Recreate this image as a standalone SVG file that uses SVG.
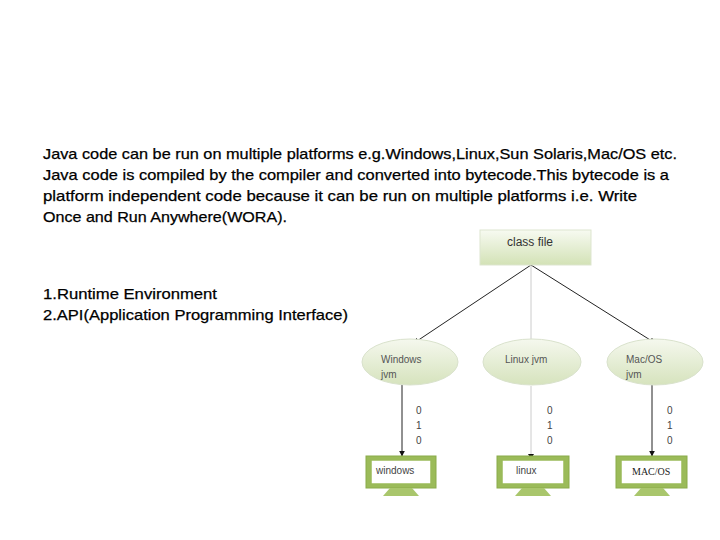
<svg xmlns="http://www.w3.org/2000/svg" width="720" height="540" viewBox="0 0 720 540">
<style>
.body{font-family:"Liberation Sans",Arial,sans-serif;font-size:15px;fill:#000;stroke:#000;stroke-width:0.25}
.small{font-family:"Liberation Sans",Arial,sans-serif;font-size:10px;fill:#555}
.bit{font-family:"Liberation Sans",Arial,sans-serif;font-size:10px;fill:#444}
.mon{fill:#9bbb59;stroke:#8aab4a;stroke-width:1}
.stand{fill:#a9c66c}
.screen{fill:#fff;stroke:#9bbb59;stroke-width:1.5}
.ell{fill:url(#eg);stroke:#d9e2cc;stroke-width:1}
.edge{stroke:#222;stroke-width:1;fill:none}
.edge-light{stroke:#ccc;stroke-width:1;fill:none}
</style>
<defs>
<linearGradient id="bg" x1="0" y1="0" x2="0" y2="1">
<stop offset="0" stop-color="#f7faf1"/>
<stop offset="1" stop-color="#d3e2b6"/>
</linearGradient>
<linearGradient id="eg" x1="0" y1="0" x2="0" y2="1">
<stop offset="0" stop-color="#f5f8ee"/>
<stop offset="1" stop-color="#d6e3bd"/>
</linearGradient>
<marker id="ah" viewBox="0 0 10 10" refX="9" refY="5" markerWidth="6" markerHeight="6" orient="auto">
<path d="M0,0 L10,5 L0,10 z" fill="#111"/>
</marker>
</defs>
<rect width="720" height="540" fill="#fff"/>

<g id="text">
<text class="body" x="43" y="159" textLength="634" lengthAdjust="spacingAndGlyphs">Java code can be run on multiple platforms e.g.Windows,Linux,Sun Solaris,Mac/OS etc.</text>
<text class="body" x="43" y="180" textLength="626" lengthAdjust="spacingAndGlyphs">Java code is compiled by the compiler and converted into bytecode.This bytecode is a</text>
<text class="body" x="43" y="201" textLength="594" lengthAdjust="spacingAndGlyphs">platform independent code because it can be run on multiple platforms i.e. Write</text>
<text class="body" x="43" y="222" textLength="244" lengthAdjust="spacingAndGlyphs">Once and Run Anywhere(WORA).</text>
<text class="body" x="43" y="299" textLength="174" lengthAdjust="spacingAndGlyphs">1.Runtime Environment</text>
<text class="body" x="43" y="320" textLength="305" lengthAdjust="spacingAndGlyphs">2.API(Application Programming Interface)</text>
</g>

<g id="connectors">
<line class="edge" x1="531" y1="265" x2="414" y2="343" marker-end="url(#ah)"/>
<line class="edge-light" x1="531" y1="265" x2="531" y2="341"/>
<path d="M528,340 L534,340 L531,345 z" fill="#111"/>
<line class="edge" x1="531" y1="265" x2="655" y2="343" marker-end="url(#ah)"/>
<line class="edge" x1="402" y1="385" x2="402" y2="456" marker-end="url(#ah)"/>
<line class="edge-light" x1="531" y1="386" x2="531" y2="454"/>
<path d="M528,454 L534,454 L531,459 z" fill="#111"/>
<line class="edge" x1="652" y1="385" x2="652" y2="456" marker-end="url(#ah)"/>
<text class="bit" x="416" y="414">0</text><text class="bit" x="416" y="429">1</text><text class="bit" x="416" y="444">0</text>
<text class="bit" x="547" y="414">0</text><text class="bit" x="547" y="429">1</text><text class="bit" x="547" y="444">0</text>
<text class="bit" x="667" y="414">0</text><text class="bit" x="667" y="429">1</text><text class="bit" x="667" y="444">0</text>
</g>

<g id="classfile">
<rect x="480" y="230" width="111" height="35" fill="url(#bg)" stroke="#dde5cf" stroke-width="1"/>
<text x="507" y="246" font-family="Liberation Sans,Arial,sans-serif" font-size="12" fill="#333">class file</text>
</g>

<g id="windows-jvm">
<ellipse class="ell" cx="410" cy="362" rx="48" ry="23"/>
<text class="small" x="381" y="363">Windows</text>
<text class="small" x="381" y="378">jvm</text>
</g>
<g id="linux-jvm">
<ellipse class="ell" cx="532" cy="362" rx="49" ry="23"/>
<text class="small" x="505" y="363">Linux   jvm</text>
</g>
<g id="mac-jvm">
<ellipse class="ell" cx="655" cy="362" rx="48" ry="23"/>
<text class="small" x="626" y="363">Mac/OS</text>
<text class="small" x="626" y="378">jvm</text>
</g>

<g id="windows-pc">
<rect class="mon" x="366" y="456" width="70" height="32"/>
<rect class="screen" x="371" y="460" width="60" height="24"/>
<path class="stand" d="M390,488 L412,488 L419,496 L383,496 z"/>
<text x="376" y="474" font-family="Liberation Sans,Arial,sans-serif" font-size="10" fill="#444">windows</text>
</g>
<g id="linux-pc">
<rect class="mon" x="497" y="456" width="72" height="32"/>
<rect class="screen" x="502" y="460" width="62" height="24"/>
<path class="stand" d="M522,488 L544,488 L551,496 L515,496 z"/>
<text x="516" y="474" font-family="Liberation Sans,Arial,sans-serif" font-size="10" fill="#444">linux</text>
</g>
<g id="mac-pc">
<rect class="mon" x="616" y="456" width="71" height="32"/>
<rect class="screen" x="621" y="460" width="61" height="24"/>
<path class="stand" d="M641,488 L663,488 L670,496 L634,496 z"/>
<text x="632" y="475" font-family="Liberation Serif,Times New Roman,serif" font-size="10" fill="#222">MAC/OS</text>
</g>
</svg>
